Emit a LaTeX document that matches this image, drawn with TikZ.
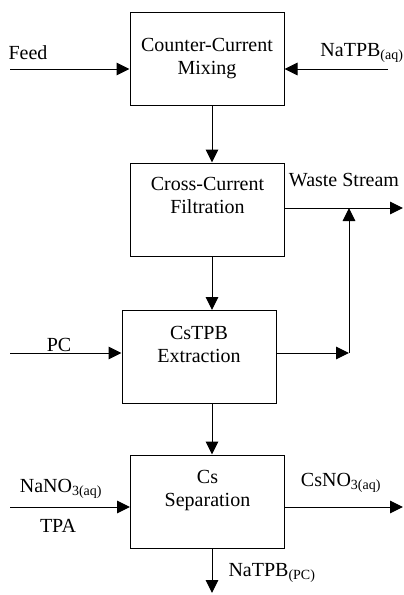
\documentclass[tikz,border=0pt]{standalone}
\usepackage{fontspec}
\setmainfont{Liberation Serif}
\usetikzlibrary{arrows.meta}
\tikzset{
    unit/.style={draw, line width=1pt, minimum width=154pt, minimum height=93pt, align=center, inner sep=0pt},
    flow/.style={line width=1pt, -{Triangle[length=13pt, width=12.5pt]}},
    line/.style={line width=1pt}
}
\begin{document}
\begin{tikzpicture}[x=1pt, y=-1pt, font=\fontsize{20}{23}\selectfont]
        \useasboundingbox (0, 0) rectangle (404, 595);
        \node[unit] (mix) at (207, 59) {Counter-Current\\Mixing};
        \node[unit] (filt) at (207.5, 209.5) {Cross-Current\\Filtration\\[6pt]};
        \node[unit] (extr) at (199, 357) {CsTPB\\Extraction\\[3pt]};
        \node[unit] (sep) at (207.5, 501.5) {Cs\\Separation\\[3pt]};
        \coordinate (axis) at (212, 0);
        \coordinate (feedin) at (10, 69);
        \coordinate (natpbin) at (388, 69);
        \coordinate (pcin) at (10, 353);
        \coordinate (join) at (349, 353);
        \coordinate (wasteout) at (403, 208);
        \coordinate (nitratein) at (10, 507);
        \coordinate (csout) at (403, 507);
        \coordinate (pcout) at (212, 593);
        \draw[flow] (feedin) -- (feedin -| mix.west);
        \draw[flow] (natpbin) -- (natpbin -| mix.east);
        \draw[flow] (mix.south -| axis) -- (filt.north -| axis);
        \draw[flow] (filt.south -| axis) -- (extr.north -| axis);
        \draw[flow] (extr.south -| axis) -- (sep.north -| axis);
        \draw[flow] (sep.south -| axis) -- (pcout);
        \draw[flow] (wasteout -| filt.east) -- (wasteout);
        \draw[flow] (pcin) -- (pcin -| extr.west);
        \draw[flow] (join -| extr.east) -- (join);
        \draw[flow] (join) -- (join |- wasteout);
        \draw[flow] (nitratein) -- (nitratein -| sep.west);
        \draw[flow] (csout -| sep.east) -- (csout);
        \node (feed) at (28, 53) {Feed};
        \node (natpb) at (362, 53) {NaTPB\textsubscript{(aq)}};
        \node (waste) at (344, 180) {Waste Stream};
        \node (pc) at (59, 345) {PC};
        \node (nitrate) at (61, 489) {NaNO\textsubscript{3(aq)}};
        \node (tpa) at (58, 526) {TPA};
        \node (csnitrate) at (341, 483) {CsNO\textsubscript{3(aq)}};
        \node (natpbpc) at (272, 573) {NaTPB\textsubscript{(PC)}};
    \end{tikzpicture}
\end{document}
